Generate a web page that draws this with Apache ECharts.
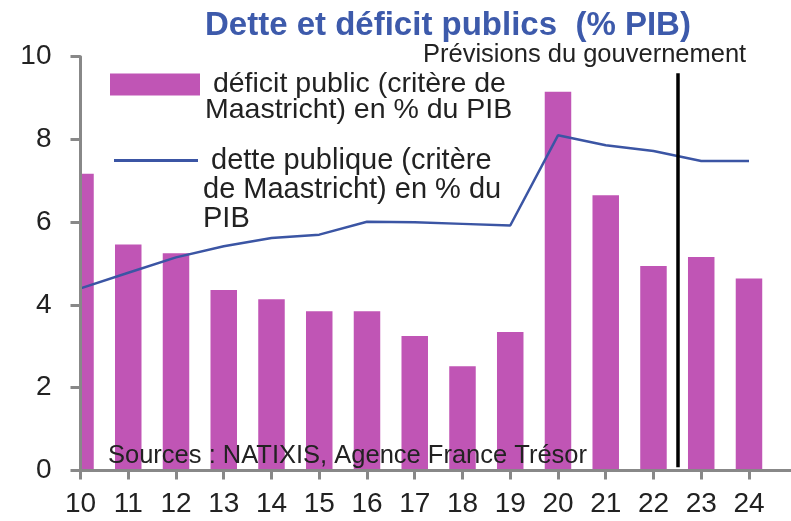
<!DOCTYPE html>
<html>
<head>
<meta charset="utf-8">
<script src="https://cdn.jsdelivr.net/npm/echarts@6/dist/echarts.min.js"></script>
<style>
html,body{margin:0;padding:0;background:#fff;}
#chart{width:791px;height:521px;}
</style>
</head>
<body>
<div id="chart"></div>
<script>
// ---- data ----
var years = [10, 11, 12, 13, 14, 15, 16, 17, 18, 19, 20, 21, 22, 23, 24];
var deficit = [7.17, 5.46, 5.25, 4.36, 4.14, 3.85, 3.85, 3.25, 2.52, 3.35, 9.15, 6.65, 4.94, 5.16, 4.64];
var debt = [4.40, 4.78, 5.15, 5.42, 5.62, 5.70, 6.01, 6.00, 5.96, 5.92, 8.10, 7.86, 7.72, 7.48, 7.48];
var yTicks = [0, 2, 4, 6, 8, 10];
var forecastBoundary = 22.5;
var titleText = 'Dette et déficit publics  (% PIB)';
var forecastText = 'Prévisions du gouvernement';
var sourceText = 'Sources : NATIXIS, Agence France Trésor';
var deficitName = ' déficit public (critère de\nMaastricht) en % du PIB';
var debtName = ' dette publique (critère\nde Maastricht) en % du\nPIB';

var FONT = '"Liberation Sans", Arial, sans-serif';
var BAR_COLOR = '#C055B5';
var LINE_COLOR = '#3B55A4';
var barData = years.map(function (y, i) { return [y, deficit[i]]; });
var lineData = years.map(function (y, i) { return [y, debt[i]]; });

function renderBar(params, api) {
  var x = api.value(0), y = api.value(1);
  var top = api.coord([x, y]);
  var base = api.coord([x, 0]);
  var w = 26.5;
  return {
    type: 'rect',
    shape: {x: top[0] - w / 2, y: top[1], width: w, height: base[1] - top[1]},
    style: {fill: api.visual('color')}
  };
}

var chart = echarts.init(document.getElementById('chart'), null, {renderer: 'canvas'});
chart.setOption({
  animation: false,
  backgroundColor: '#ffffff',
  title: [
    {text: titleText, left: 205, top: 9, padding: 0,
     textStyle: {fontFamily: FONT, fontSize: 33, fontWeight: 'bold', color: '#3D5AAB'}},
    {text: forecastText, left: 423, top: 42, padding: 0,
     textStyle: {fontFamily: FONT, fontSize: 25.5, fontWeight: 'normal', color: '#222'}}
  ],
  legend: [
    {data: [{name: deficitName, icon: 'rect'}], left: 110, top: 44, padding: 0,
     itemWidth: 90, itemHeight: 22, orient: 'vertical', selectedMode: false,
     formatter: function (n) { return '\n' + n; },
     textStyle: {fontFamily: FONT, fontSize: 28.5, lineHeight: 26, color: '#222'}},
    {data: [{name: debtName, icon: 'rect', itemStyle: {color: LINE_COLOR}}], left: 114, top: 88, padding: 0,
     itemWidth: 84, itemHeight: 3, orient: 'vertical', selectedMode: false,
     formatter: function (n) { return '\n\n' + n; },
     textStyle: {fontFamily: FONT, fontSize: 29, lineHeight: 29, color: '#222'}}
  ],
  grid: {left: 80.5, right: 0, top: 56.7, bottom: 50.5, containLabel: false},
  xAxis: {
    type: 'value', min: 10, max: 24.88, interval: 1, z: 5,
    splitLine: {show: false},
    axisLine: {show: true, lineStyle: {color: '#888', width: 3}},
    axisTick: {show: true, length: 9, lineStyle: {color: '#888', width: 3}},
    axisLabel: {showMaxLabel: false, margin: 20, fontFamily: FONT, fontSize: 28, color: '#222',
      formatter: function (v) { return years.indexOf(v) >= 0 ? String(v) : ''; }}
  },
  yAxis: {
    type: 'value', min: yTicks[0], max: yTicks[yTicks.length - 1], interval: 2, z: 5,
    splitLine: {show: false},
    axisLine: {show: true, lineStyle: {color: '#888', width: 3}},
    axisTick: {show: true, length: 10, lineStyle: {color: '#888', width: 3}},
    axisLabel: {margin: 29, fontFamily: FONT, fontSize: 28, color: '#222'}
  },
  graphic: [
    {type: 'text', left: 108, top: 443, z: 100,
     style: {text: sourceText, font: '25.5px ' + FONT, fill: '#222'}}
  ],
  series: [
    {name: deficitName, type: 'custom', data: barData, clip: true,
     encode: {x: 0, y: 1},
     renderItem: renderBar,
     itemStyle: {color: BAR_COLOR}},
    {name: debtName, type: 'line', data: lineData, symbol: 'none', z: 3,
     lineStyle: {color: LINE_COLOR, width: 2.5}, itemStyle: {color: LINE_COLOR},
     markLine: {silent: true, symbol: ['none', 'none'], label: {show: false},
       lineStyle: {color: '#000', width: 3.5, type: 'solid'},
       data: [[{coord: [forecastBoundary, 9.6]}, {coord: [forecastBoundary, 0.08]}]]}}
  ]
});
</script>
</body>
</html>
